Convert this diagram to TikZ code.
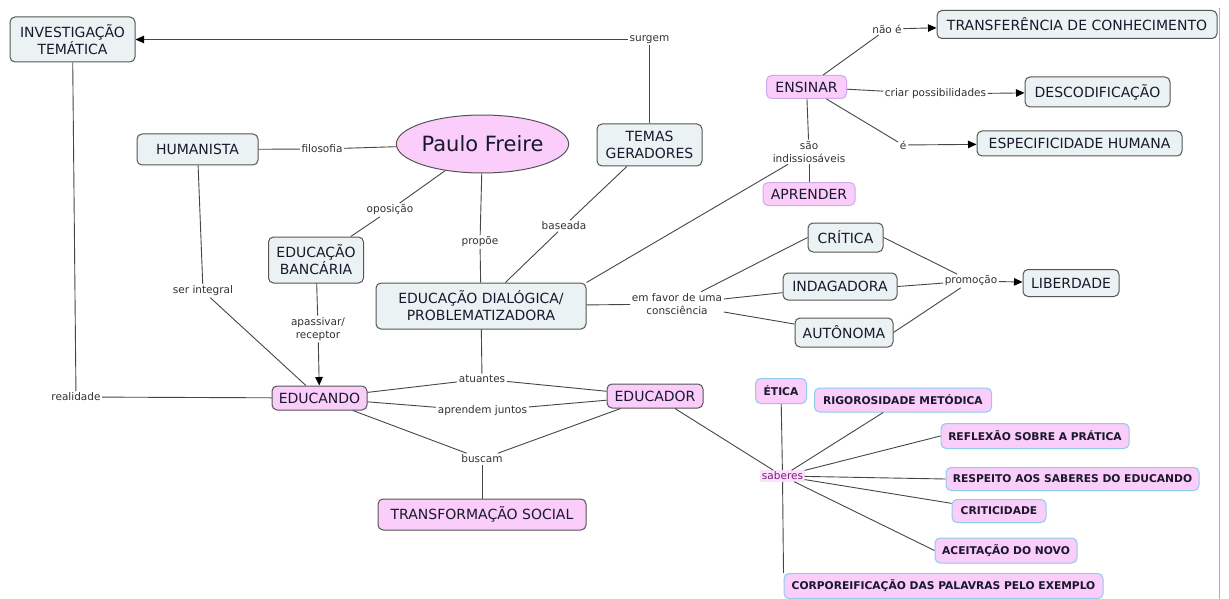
\documentclass[tikz,border=0pt]{standalone}
\usepackage{fontspec}
\setmainfont{DejaVu Sans}
\usetikzlibrary{arrows.meta,shapes.geometric}

\definecolor{boxfill}{RGB}{235,242,244}
\definecolor{boxline}{RGB}{85,85,85}
\definecolor{pinkfill}{RGB}{250,205,250}
\definecolor{lavline}{RGB}{205,170,235}
\definecolor{skyline}{RGB}{140,205,235}
\definecolor{ink}{RGB}{25,25,45}
\definecolor{linkink}{RGB}{50,50,50}
\definecolor{wirecol}{RGB}{70,70,70}
\definecolor{sabink}{RGB}{120,30,120}
\definecolor{framecol}{RGB}{175,175,175}

\begin{document}
\begin{tikzpicture}[x=1pt,y=-1pt,
  concept/.style={rectangle, rounded corners=5pt, draw=boxline, line width=1pt,
    inner sep=0pt, align=center, text=ink, font=\fontsize{14}{17}\selectfont},
  graybox/.style={concept, fill=boxfill},
  pinkbox/.style={concept, fill=pinkfill},
  lavbox/.style={pinkbox, draw=lavline},
  skybox/.style={concept, fill=pinkfill, draw=skyline,
    font=\fontsize{10.7}{13}\selectfont\bfseries},
  phrase/.style={inner sep=1.5pt, align=center, text=linkink,
    font=\fontsize{10.5}{13}\selectfont},
  wire/.style={draw=wirecol, line width=0.9pt},
  arrow/.style={wire, -{Triangle[length=8.5pt,width=7.5pt,color=black]}},
  sz/.style 2 args={minimum width=#1, minimum height=#2},
]
\useasboundingbox (0,0) rectangle (1229,599);
\fill[white] (0,0) rectangle (1229,599);

% right frame edge
\draw[draw=framecol, line width=1pt] (1219,8) -- (1219,599);

% concepts
\node[graybox, sz={125}{45}] (inv) at (72.5,39.5) {INVESTIGAÇÃO\\TEMÁTICA};
\node[graybox, sz={121}{31}] (hum) at (197.5,149.5) {HUMANISTA};
\node[ellipse, draw=boxline, line width=1pt, fill=pinkfill, text=ink,
      font=\fontsize{21}{25}\selectfont, minimum width=145, minimum height=58,
      inner sep=0pt] (pf) at (482.5,144) {Paulo Freire};
\node[graybox, sz={105}{42}] (temas) at (649.5,145) {TEMAS\\GERADORES};
\node[graybox, sz={95}{46}] (banc) at (316,260) {EDUCAÇÃO\\BANCÁRIA};
\node[graybox, sz={210}{46}] (dial) at (481,306) {EDUCAÇÃO DIALÓGICA/\\PROBLEMATIZADORA};
\node[pinkbox, sz={95}{24}] (educando) at (319.5,398) {EDUCANDO};
\node[pinkbox, sz={96}{24}] (educador) at (655,396) {EDUCADOR};
\node[pinkbox, sz={208}{31}] (social) at (482,514.5) {TRANSFORMAÇÃO SOCIAL};
\node[lavbox, sz={80}{23}] (ensinar) at (806.5,87) {ENSINAR};
\node[lavbox, sz={92}{23}] (aprender) at (809,194) {APRENDER};
\node[graybox, sz={280}{28}] (transf) at (1077,24.5) {TRANSFERÊNCIA DE CONHECIMENTO};
\node[graybox, sz={145}{30}] (descod) at (1097.5,92) {DESCODIFICAÇÃO};
\node[graybox, sz={205}{25}] (espec) at (1079.5,143.5) {ESPECIFICIDADE HUMANA};
\node[graybox, sz={75}{29}] (critica) at (845.5,237.5) {CRÍTICA};
\node[graybox, sz={114}{27}] (indag) at (840,286.5) {INDAGADORA};
\node[graybox, sz={98}{29}] (auton) at (844,332.5) {AUTÔNOMA};
\node[graybox, sz={96}{27}] (liber) at (1071,283) {LIBERDADE};

\node[skybox, sz={51}{25}] (etica) at (781,391) {ÉTICA};
\node[skybox, sz={177}{24}] (rigor) at (903,400) {RIGOROSIDADE METÓDICA};
\node[skybox, sz={188}{25}] (reflex) at (1035,436) {REFLEXÃO SOBRE A PRÁTICA};
\node[skybox, sz={253}{23}] (respeito) at (1072.5,479) {RESPEITO AOS SABERES DO EDUCANDO};
\node[skybox, sz={94}{23}] (critic) at (999,511) {CRITICIDADE};
\node[skybox, sz={142}{25}] (aceit) at (1006,550.5) {ACEITAÇÃO DO NOVO};
\node[skybox, sz={319}{25}] (corpo) at (943.5,586) {CORPOREIFICAÇÃO DAS PALAVRAS PELO EXEMPLO};

% linking phrases
\node[phrase] (lsurgem) at (649.5,39.5) {surgem};
\node[phrase] (lfilo) at (322,149) {filosofia};
\node[phrase] (lopos) at (390,210) {oposição};
\node[phrase] (lprop) at (480,242) {propõe};
\node[phrase] (lbase) at (564,226) {baseada};
\node[phrase] (lser) at (203,291) {ser integral};
\node[phrase] (lreal) at (76,397) {realidade};
\node[phrase] (lapas) at (318,329) {apassivar/\\receptor};
\node[phrase] (latu) at (482,379) {atuantes};
\node[phrase] (lapr) at (482.5,411) {aprendem juntos};
\node[phrase] (lbus) at (482,459) {buscam};
\node[phrase] (lfav) at (677,304) {em favor de uma\\consciência};
\node[phrase] (lprom) at (971,281) {promoção};
\node[phrase] (lnao) at (887,29) {não é};
\node[phrase] (lcriar) at (935.5,94) {criar possibilidades};
\node[phrase] (le) at (903,145) {é};
\node[phrase] (lind) at (809,152) {são\\indissiosáveis};
\node[phrase, text=sabink, fill=pinkfill!60] (lsab) at (782.5,476) {saberes};

% connectors
\draw[wire] (temas) -- (lsurgem);
\draw[arrow] (lsurgem) -- (inv);
\draw[wire] (hum) -- (lfilo);
\draw[wire] (lfilo) -- (pf);
\draw[wire] (pf) -- (lopos);
\draw[wire] (lopos) -- (banc);
\draw[wire] (pf) -- (lprop);
\draw[wire] (lprop) -- (dial);
\draw[wire] (temas) -- (lbase);
\draw[wire] (lbase) -- (dial);
\draw[wire] (hum) -- (lser);
\draw[wire] (lser) -- (educando);
\draw[wire] (inv) -- (lreal);
\draw[wire] (lreal) -- (educando);
\draw[wire] (banc) -- (lapas);
\draw[arrow] (lapas) -- (educando);
\draw[wire] (dial) -- (latu);
\draw[wire] (latu) -- (educando);
\draw[wire] (latu) -- (educador);
\draw[wire] (educando) -- (lapr);
\draw[wire] (lapr) -- (educador);
\draw[wire] (educando) -- (lbus);
\draw[wire] (educador) -- (lbus);
\draw[wire] (lbus) -- (social);

\draw[wire] (dial) -- (lfav);
\draw[wire] (lfav) -- (critica.west);
\draw[wire] (lfav) -- (indag);
\draw[wire] (lfav) -- (auton);
\draw[wire] (critica.east) -- (lprom);
\draw[wire] (indag.east) -- (lprom);
\draw[wire] (auton.east) -- (lprom);
\draw[arrow] (lprom) -- (liber);

\draw[wire] (dial.north east) -- (lind);
\draw[wire] (ensinar) -- (lind);
\draw[wire] (lind) -- (aprender);
\draw[wire] (ensinar) -- (lnao);
\draw[arrow] (lnao) -- (transf);
\draw[wire] (ensinar) -- (lcriar);
\draw[arrow] (lcriar) -- (descod);
\draw[wire] (ensinar) -- (le);
\draw[arrow] (le) -- (espec);

\draw[wire] (educador) -- (lsab);
\draw[wire] (lsab) -- (etica);
\draw[wire] (lsab) -- (corpo.north west);
\draw[wire] (lsab) -- (rigor);
\draw[wire] (lsab) -- (reflex.west);
\draw[wire] (lsab) -- (respeito.west);
\draw[wire] (lsab) -- (critic);
\draw[wire] (lsab) -- (aceit.west);
\end{tikzpicture}
\end{document}
